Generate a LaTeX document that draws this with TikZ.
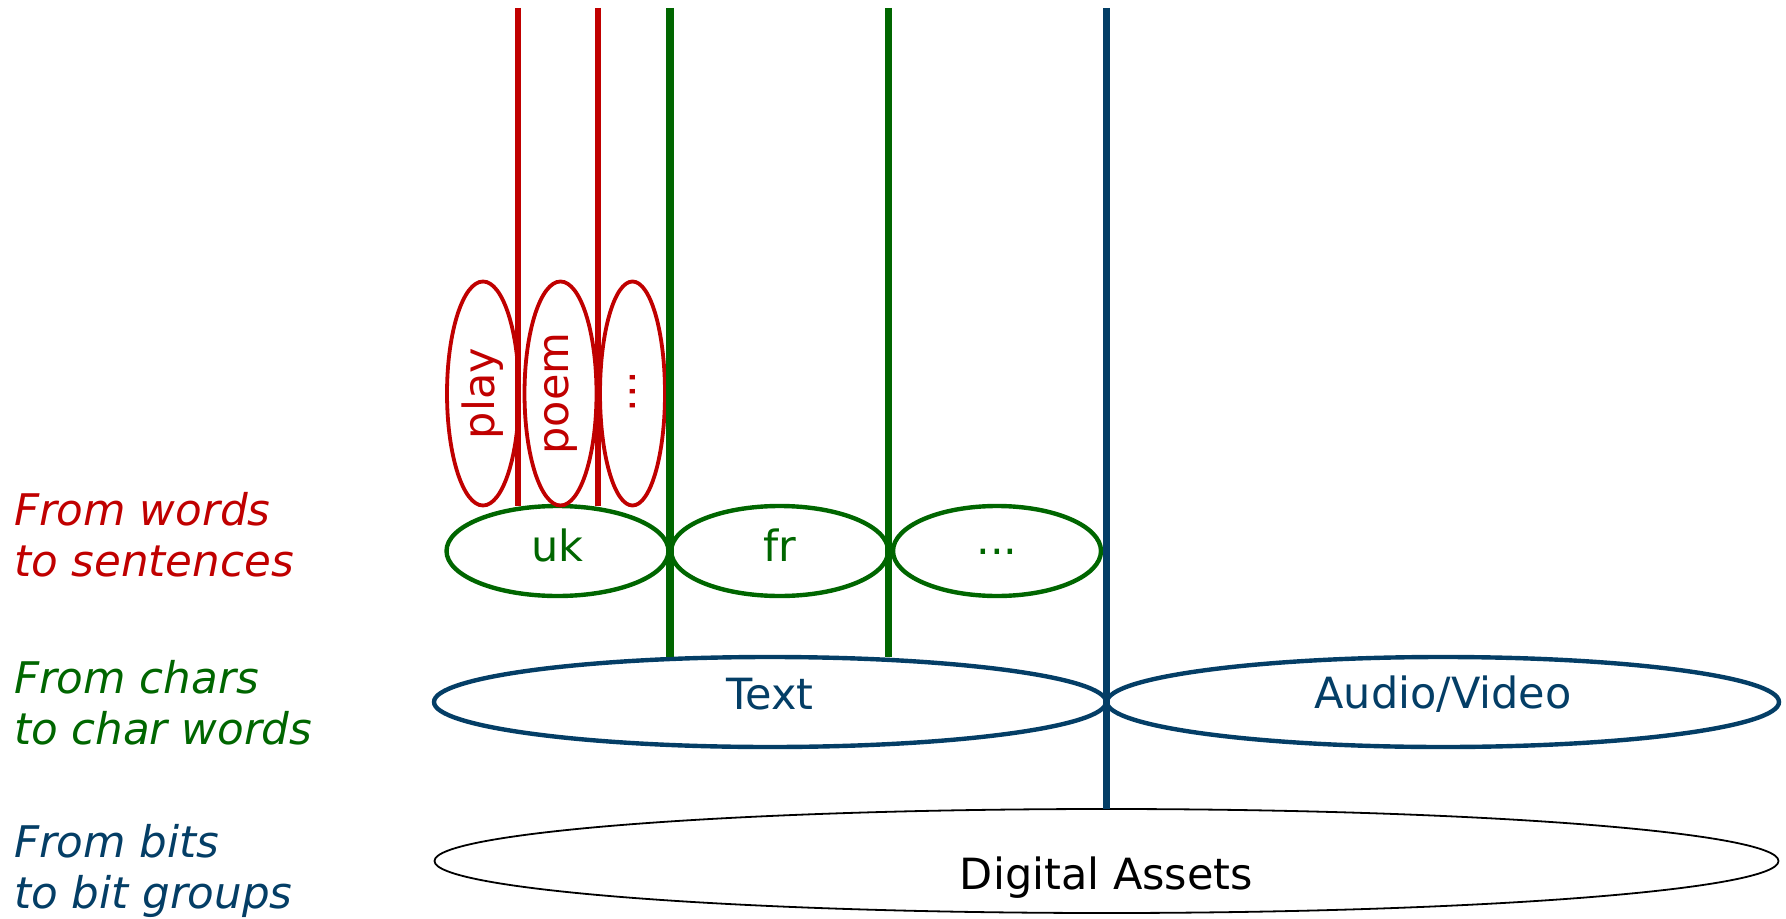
\documentclass[tikz,border=0pt]{standalone}
\usepackage{fontspec}
\setmainfont{DejaVu Sans}
\usetikzlibrary{shapes.geometric}
\definecolor{cred}{HTML}{C00000}
\definecolor{cgreen}{HTML}{006600}
\definecolor{cblue}{HTML}{043E66}
\begin{document}
\begin{tikzpicture}[x=0.5pt,y=-0.5pt,
  every node/.style={font=\fontsize{21.5}{25.5}\selectfont, inner sep=0pt, outer sep=0pt},
  redell/.style={ellipse, draw=cred, line width=1.9pt, text=cred, minimum width=36pt, minimum height=112pt},
  greenell/.style={ellipse, draw=cgreen, line width=2.2pt, text=cgreen, minimum height=45pt},
  blueell/.style={ellipse, draw=cblue, line width=2.2pt, text=cblue, minimum width=336pt, minimum height=45pt},
  blackell/.style={ellipse, draw=black, line width=0.9pt, minimum width=672pt, minimum height=52pt},
  redline/.style={draw=cred, line width=3pt},
  greenline/.style={draw=cgreen, line width=3.6pt},
  blueline/.style={draw=cblue, line width=3.2pt},
  sidelabel/.style={anchor=west, align=left, font=\fontsize{21.8}{25.5}\selectfont\itshape}
]
\useasboundingbox (0,0) rectangle (1786,919);

% bottom ellipse
\node[blackell, label={[yshift=-8.5pt]center:Digital Assets}] (digital) at (1106.5,861) {};
% media ellipses
\node[blueell, label={[yshift=4pt, text=cblue]center:Text}] (text) at (770,702) {};
\node[blueell, label={[yshift=4pt, text=cblue]center:Audio/Video}] (audio) at (1443,702) {};
% language ellipses
\node[greenell, minimum width=111pt, label={[yshift=3pt, text=cgreen]center:uk}] (uk) at (557.5,551) {};
\node[greenell, minimum width=108.5pt, label={[yshift=3pt, text=cgreen]center:fr}] (fr) at (779.7,551) {};
\node[greenell, minimum width=104pt, label={[yshift=-0.5pt, text=cgreen]center:...}] (gdots) at (997,551) {};
% genre ellipses
\node[redell, label={[rotate=90, text=cred]center:play}] (play) at (483,393.5) {};
\node[redell, label={[rotate=90, text=cred]center:poem}] (poem) at (560.5,393.5) {};
\node[redell, minimum width=32.5pt, label={[rotate=90, text=cred, xshift=1pt]center:...}] (rdots) at (632.5,393.5) {};

% vertical lines
\coordinate (r1top) at (518,8);
\coordinate (r2top) at (597.5,8);
\coordinate (g1top) at (670,8);
\coordinate (g2top) at (888.5,8);
\coordinate (b1top) at (1106.5,8);
\draw[redline] (r1top) -- (r1top |- uk.north);
\draw[redline] (r2top) -- (r2top |- uk.north);
\draw[greenline] (g1top) -- (g1top |- text.north);
\draw[greenline] (g2top) -- (g2top |- text.north);
\draw[blueline] (b1top) -- (b1top |- digital.north);

% side labels
\node[sidelabel, text=cred] (lw) at (14,535) {From words\\to sentences};
\node[sidelabel, text=cgreen] (lc) at (14,703) {From chars\\to char words};
\node[sidelabel, text=cblue] (lb) at (14,871) {From bits\\to bit groups};
\end{tikzpicture}
\end{document}
